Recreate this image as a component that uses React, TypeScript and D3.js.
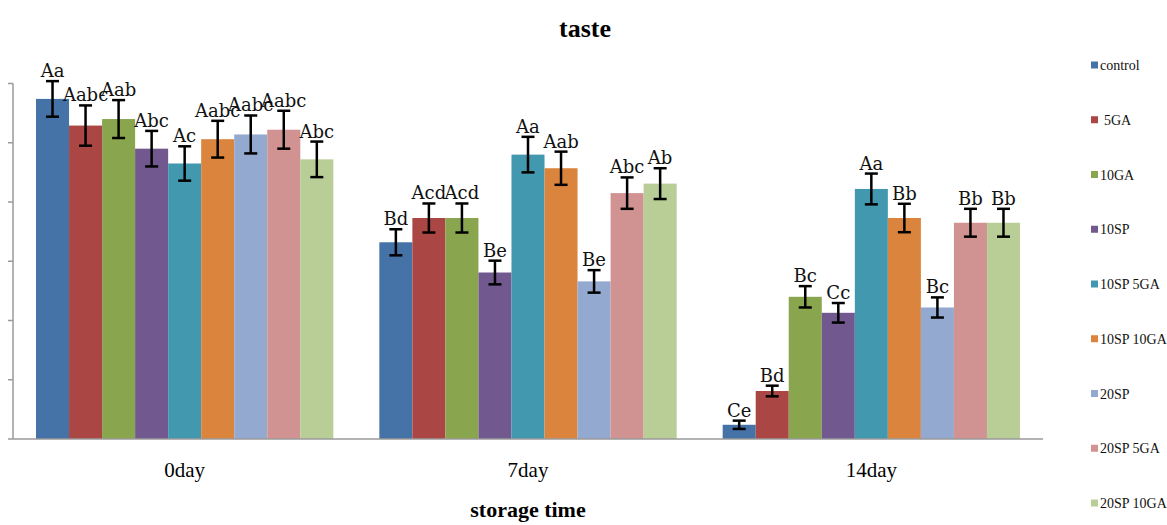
import React from "react";
import * as d3 from "d3";

// Storage-time groups and treatment series
const periods = ["0day", "7day", "14day"];
const treatments = ["control", "5GA", "10GA", "10SP", "10SP 5GA", "10SP 10GA", "20SP", "20SP 5GA", "20SP 10GA"];
const colors = ["#4572A7", "#AA4643", "#89A54E", "#71588F", "#4198AF", "#DB843D", "#93A9CF", "#D19392", "#B9CD96"];

// Mean taste scores per treatment, one array per storage time
const day0Means = [5.74, 5.29, 5.4, 4.9, 4.65, 5.06, 5.14, 5.22, 4.72];
const day7Means = [3.32, 3.73, 3.73, 2.81, 4.8, 4.57, 2.66, 4.15, 4.31];
const day14Means = [0.24, 0.81, 2.4, 2.13, 4.22, 3.73, 2.22, 3.65, 3.65];

// Standard deviations
const day0Errors = [0.3, 0.34, 0.32, 0.3, 0.29, 0.31, 0.32, 0.32, 0.3];
const day7Errors = [0.22, 0.245, 0.245, 0.2, 0.3, 0.28, 0.19, 0.265, 0.26];
const day14Errors = [0.07, 0.09, 0.18, 0.165, 0.26, 0.24, 0.17, 0.235, 0.235];

// Significance letters
const day0Letters = ["Aa", "Aabc", "Aab", "Abc", "Ac", "Aabc", "Aabc", "Aabc", "Abc"];
const day7Letters = ["Bd", "Acd", "Acd", "Be", "Aa", "Aab", "Be", "Abc", "Ab"];
const day14Letters = ["Ce", "Bd", "Bc", "Cc", "Aa", "Bb", "Bc", "Bb", "Bb"];

const yTicks = [0, 1, 2, 3, 4, 5, 6];

const means = [day0Means, day7Means, day14Means];
const errors = [day0Errors, day7Errors, day14Errors];
const letters = [day0Letters, day7Letters, day14Letters];

const W = 1167;
const H = 525;
const plotLeft = 13;
const plotRight = 1043;
const plotTop = 83.5;
const plotBottom = 439;

export default function App() {
  const x0 = d3
    .scaleBand<string>()
    .domain(periods)
    .range([plotLeft, plotRight])
    .paddingInner(0.134)
    .paddingOuter(0.067);
  const x1 = d3.scaleBand<string>().domain(treatments).range([0, x0.bandwidth()]);
  const y = d3.scaleLinear().domain([0, 6]).range([plotBottom, plotTop]);
  const legendY = d3.scalePoint<string>().domain(treatments).range([65, 503]);
  const axisColor = "#9a9a9a";

  return (
    <svg width={W} height={H} style={{ display: "block", position: "absolute", left: 0, top: 0, background: "#fff" }}>
      <text x={585} y={37} textAnchor="middle" fontFamily="Liberation Serif" fontWeight="bold" fontSize={26}>
        taste
      </text>

      {/* value axis */}
      <line x1={plotLeft} x2={plotLeft} y1={y(6)} y2={y(0)} stroke={axisColor} strokeWidth={1.5} />
      {yTicks.map((t) => (
        <line key={t} x1={plotLeft - 5} x2={plotLeft} y1={y(t)} y2={y(t)} stroke={axisColor} strokeWidth={1.5} />
      ))}

      {/* bars */}
      {periods.map((p, gi) => (
        <g key={p} transform={`translate(${x0(p)},0)`}>
          {treatments.map((t, si) => {
            const v = means[gi][si];
            return (
              <rect
                key={t}
                x={x1(t)}
                y={y(v)}
                width={x1.bandwidth()}
                height={y(0) - y(v)}
                fill={colors[si]}
              />
            );
          })}
        </g>
      ))}

      {/* category axis */}
      <line x1={plotLeft} x2={plotRight} y1={y(0)} y2={y(0)} stroke={axisColor} strokeWidth={1.5} />

      {/* error bars and letters */}
      {periods.map((p, gi) => (
        <g key={p} transform={`translate(${x0(p)},0)`}>
          {treatments.map((t, si) => {
            const v = means[gi][si];
            const e = errors[gi][si];
            const cx = (x1(t) as number) + x1.bandwidth() / 2;
            const top = y(v + e);
            const bot = y(v - e);
            return (
              <g key={t}>
                <line x1={cx} x2={cx} y1={top} y2={bot} stroke="#000" strokeWidth={2.5} />
                <line x1={cx - 6.5} x2={cx + 6.5} y1={top} y2={top} stroke="#000" strokeWidth={2.5} />
                <line x1={cx - 6.5} x2={cx + 6.5} y1={bot} y2={bot} stroke="#000" strokeWidth={2.5} />
                <text
                  x={cx}
                  y={top - 4}
                  textAnchor="middle"
                  fontFamily="DejaVu Serif"
                  fontSize={18}
                  fill="#111"
                >
                  {letters[gi][si]}
                </text>
              </g>
            );
          })}
        </g>
      ))}

      {periods.map((p) => (
        <text
          key={p}
          x={(x0(p) as number) + x0.bandwidth() / 2}
          y={477}
          textAnchor="middle"
          fontFamily="Liberation Serif"
          fontSize={21}
        >
          {p}
        </text>
      ))}

      <text x={528} y={517} textAnchor="middle" fontFamily="Liberation Serif" fontWeight="bold" fontSize={22}>
        storage time
      </text>

      {/* legend */}
      {treatments.map((t, i) => (
        <g key={t} transform={`translate(1091,${legendY(t)})`}>
          <rect x={0} y={-3.5} width={7} height={7} fill={colors[i]} />
          <text x={i === 1 ? 13 : 9} y={5} fontFamily="Liberation Serif" fontSize={14} fill="#111">
            {t}
          </text>
        </g>
      ))}
    </svg>
  );
}
